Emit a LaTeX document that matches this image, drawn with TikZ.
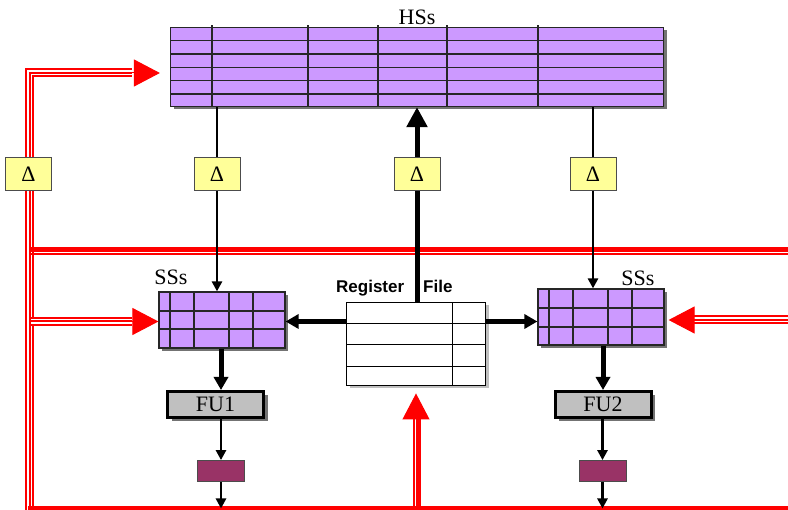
\documentclass[tikz,border=0pt]{standalone}
\usepackage{fontspec}
\setmainfont{Liberation Serif}
\setsansfont{Liberation Sans}
\usetikzlibrary{arrows.meta,positioning,shadows}
\definecolor{stationfill}{HTML}{CC99FF}
\definecolor{deltafill}{HTML}{FFFF99}
\definecolor{fufill}{HTML}{C0C0C0}
\definecolor{latchfill}{HTML}{993366}
\newcommand\bigtext{\fontsize{22}{24}\selectfont}

\begin{document}
\begin{tikzpicture}[x=1pt,y=-1pt] % pixel grid, y runs downwards
\tikzset{shadowed/.style={drop shadow={shadow xshift=3pt,shadow yshift=-3pt,fill=black!55,opacity=1}}} % grey offset copy
\tikzset{station/.style={draw=black!85,line width=1.2pt,fill=stationfill,inner sep=0pt,shadowed}}
\tikzset{deltabox/.style={draw=black!70,line width=1pt,fill=deltafill,minimum width=46pt,minimum height=33pt,inner sep=0pt,font=\bigtext}}
\tikzset{fubox/.style={draw,line width=3pt,fill=fufill,minimum width=96pt,minimum height=26pt,inner sep=0pt,font=\bigtext,drop shadow={shadow xshift=4pt,shadow yshift=-4pt,fill=black!55,opacity=1}}}
\tikzset{latch/.style={draw=black!70,line width=0.8pt,fill=latchfill,minimum width=47pt,minimum height=21pt,inner sep=0pt}}
\tikzset{regbox/.style={draw,line width=0.9pt,fill=white,minimum width=139pt,minimum height=83pt,inner sep=0pt,drop shadow={shadow xshift=3pt,shadow yshift=-3pt,fill=black!25,opacity=1}}}
\tikzset{gridline/.style={line width=1.1pt,draw=black!85}}
\tikzset{thinarrow/.style={line width=2.5pt,-{Triangle[length=10pt,width=10pt]}}}
\tikzset{fatarrow/.style={line width=5pt,-{Triangle[length=13pt,width=14pt]}}}
\tikzset{bus/.style={draw=red,line width=9pt,postaction={draw=white,line width=5pt},postaction={draw=red,line width=2pt}}} % three red wires
\tikzset{redline/.style={draw=red,line width=#1}}
\tikzset{redtip/.style={draw=red,fill=red,line width=1pt,-{Triangle[length=26pt,width=27pt]}}}
\useasboundingbox (0,0) rectangle (788,510);

% storage
\node[station,minimum width=493pt,minimum height=79pt] (hss) at (417,67) {};
\node[above=2pt of hss,inner sep=0pt,font=\bigtext] (hsslabel) {HSs};
\foreach \y in {40.7,54,67.3,80.7,94} \draw[gridline] (170.5,\y) -- (663.5,\y);
\foreach \x in {212,308,378,447,538} \draw[gridline] (\x,25.5) -- (\x,106.5);

\node[station,minimum width=126pt,minimum height=56pt] (ssl) at (222,320) {};
\foreach \y in {311,329} \draw[gridline] (159,\y) -- (285,\y);
\foreach \x in {170,194,229,253} \draw[gridline] (\x,292) -- (\x,348);
\node[station,minimum width=126pt,minimum height=56pt] (ssr) at (601,317) {};
\foreach \y in {308,327} \draw[gridline] (538,\y) -- (664,\y);
\foreach \x in {549,573,608,632} \draw[gridline] (\x,289) -- (\x,345);
\node[font=\bigtext,inner sep=0pt] (ssllabel) at (171,277.5) {SSs};
\node[font=\bigtext,inner sep=0pt] (ssrlabel) at (638,278) {SSs};

\node[regbox] (reg) at (416,344) {};
\foreach \y in {323,344,366} \draw[line width=0.9pt] (346.5,\y) -- (485.5,\y);
\draw[line width=0.9pt] (452,302.5) -- (452,385.5);
\node[font=\sffamily\bfseries\fontsize{17}{19}\selectfont,anchor=base west,inner sep=0pt] (regname) at (336,293) {Register};
\node[font=\sffamily\bfseries\fontsize{17}{19}\selectfont,anchor=base west,inner sep=0pt] (regfile) at (423,293) {File};

\node[fubox] (fu1) at (215.5,404.5) {FU1};
\node[fubox] (fu2) at (603,404.5) {FU2};
\node[latch] (l1) at (221,471) {};
\node[latch] (l2) at (602.5,471) {};

% red result buses
\coordinate (tl) at (29.5,73);
\coordinate (bl) at (29.5,510);
\coordinate (bb) at (28,508.5);
\coordinate (br) at (788,508.5);
\coordinate (mb) at (31,249.5);
\coordinate (mr) at (788,249.5);
\coordinate (ssin) at (31,321.5);
\coordinate (ssrin) at (788,320);
\draw[bus] ([xshift=-38pt]hss.west |- tl) -- (tl) -- (bl);
\draw[redtip] ([xshift=-38pt]hss.west |- tl) -- ([xshift=-10pt]hss.west |- tl);
\draw[redline=4pt] (bb) -- (br);
\draw[redline=5pt] (mb) -- (mr);
\draw[redline=2pt] ([yshift=-4.2pt]mb) -- ([yshift=-4.2pt]mr);
\draw[bus] (ssin) -- ([xshift=-26pt]ssl.west |- ssin);
\draw[redtip] ([xshift=-26pt]ssl.west |- ssin) -- (ssl.west |- ssin);
\draw[bus] (ssrin) -- ([xshift=28pt]ssr.east |- ssrin);
\draw[redtip] ([xshift=28pt]ssr.east |- ssrin) -- ([xshift=4pt]ssr.east |- ssrin);
\coordinate (rb) at (418.5,508);
\draw[redline=5pt] (rb) -- ([yshift=-33pt]reg.south -| rb);
\draw[redline=2pt] ([xshift=-4.5pt]rb) -- ([yshift=-33pt,xshift=-4.5pt]reg.south -| rb);
\draw[redtip] ([yshift=-34pt]reg.south) -- ([yshift=-7.5pt]reg.south);

% delays
\node[deltabox] (d0) at (28.5,174) {Δ};
\node[deltabox] (d1) at (217,174) {Δ};
\node[deltabox] (d2) at (417,174) {Δ};
\node[deltabox] (d3) at (593,174) {Δ};

% data paths
\draw[line width=2.5pt] (hss.south -| d1) -- (d1.north);
\draw[thinarrow] (d1.south) -- (d1 |- ssl.north);
\draw[line width=2.5pt] (hss.south -| d3) -- (d3.north);
\draw[thinarrow] (d3.south) -- (d3 |- ssr.north);
\draw[line width=5pt] (reg.north -| d2) -- (d2.south);
\draw[line width=5pt,-{Triangle[length=20pt,width=20pt]}] (d2.north) -- (hss.south -| d2);
\draw[fatarrow] (reg.west |- ssin) -- (ssl.east |- ssin);
\draw[fatarrow] (reg.east |- ssin) -- (ssr.west |- ssin);
\draw[fatarrow] (ssl.south -| l1) -- (fu1.north -| l1);
\draw[fatarrow] (ssr.south -| fu2) -- (fu2.north);
\draw[thinarrow] (fu1.south -| l1) -- (l1.north);
\draw[thinarrow] (l1.south) -- (l1 |- bb);
\draw[thinarrow] (fu2.south -| l2) -- (l2.north);
\draw[thinarrow] (l2.south) -- (l2 |- bb);
\end{tikzpicture}
\end{document}
